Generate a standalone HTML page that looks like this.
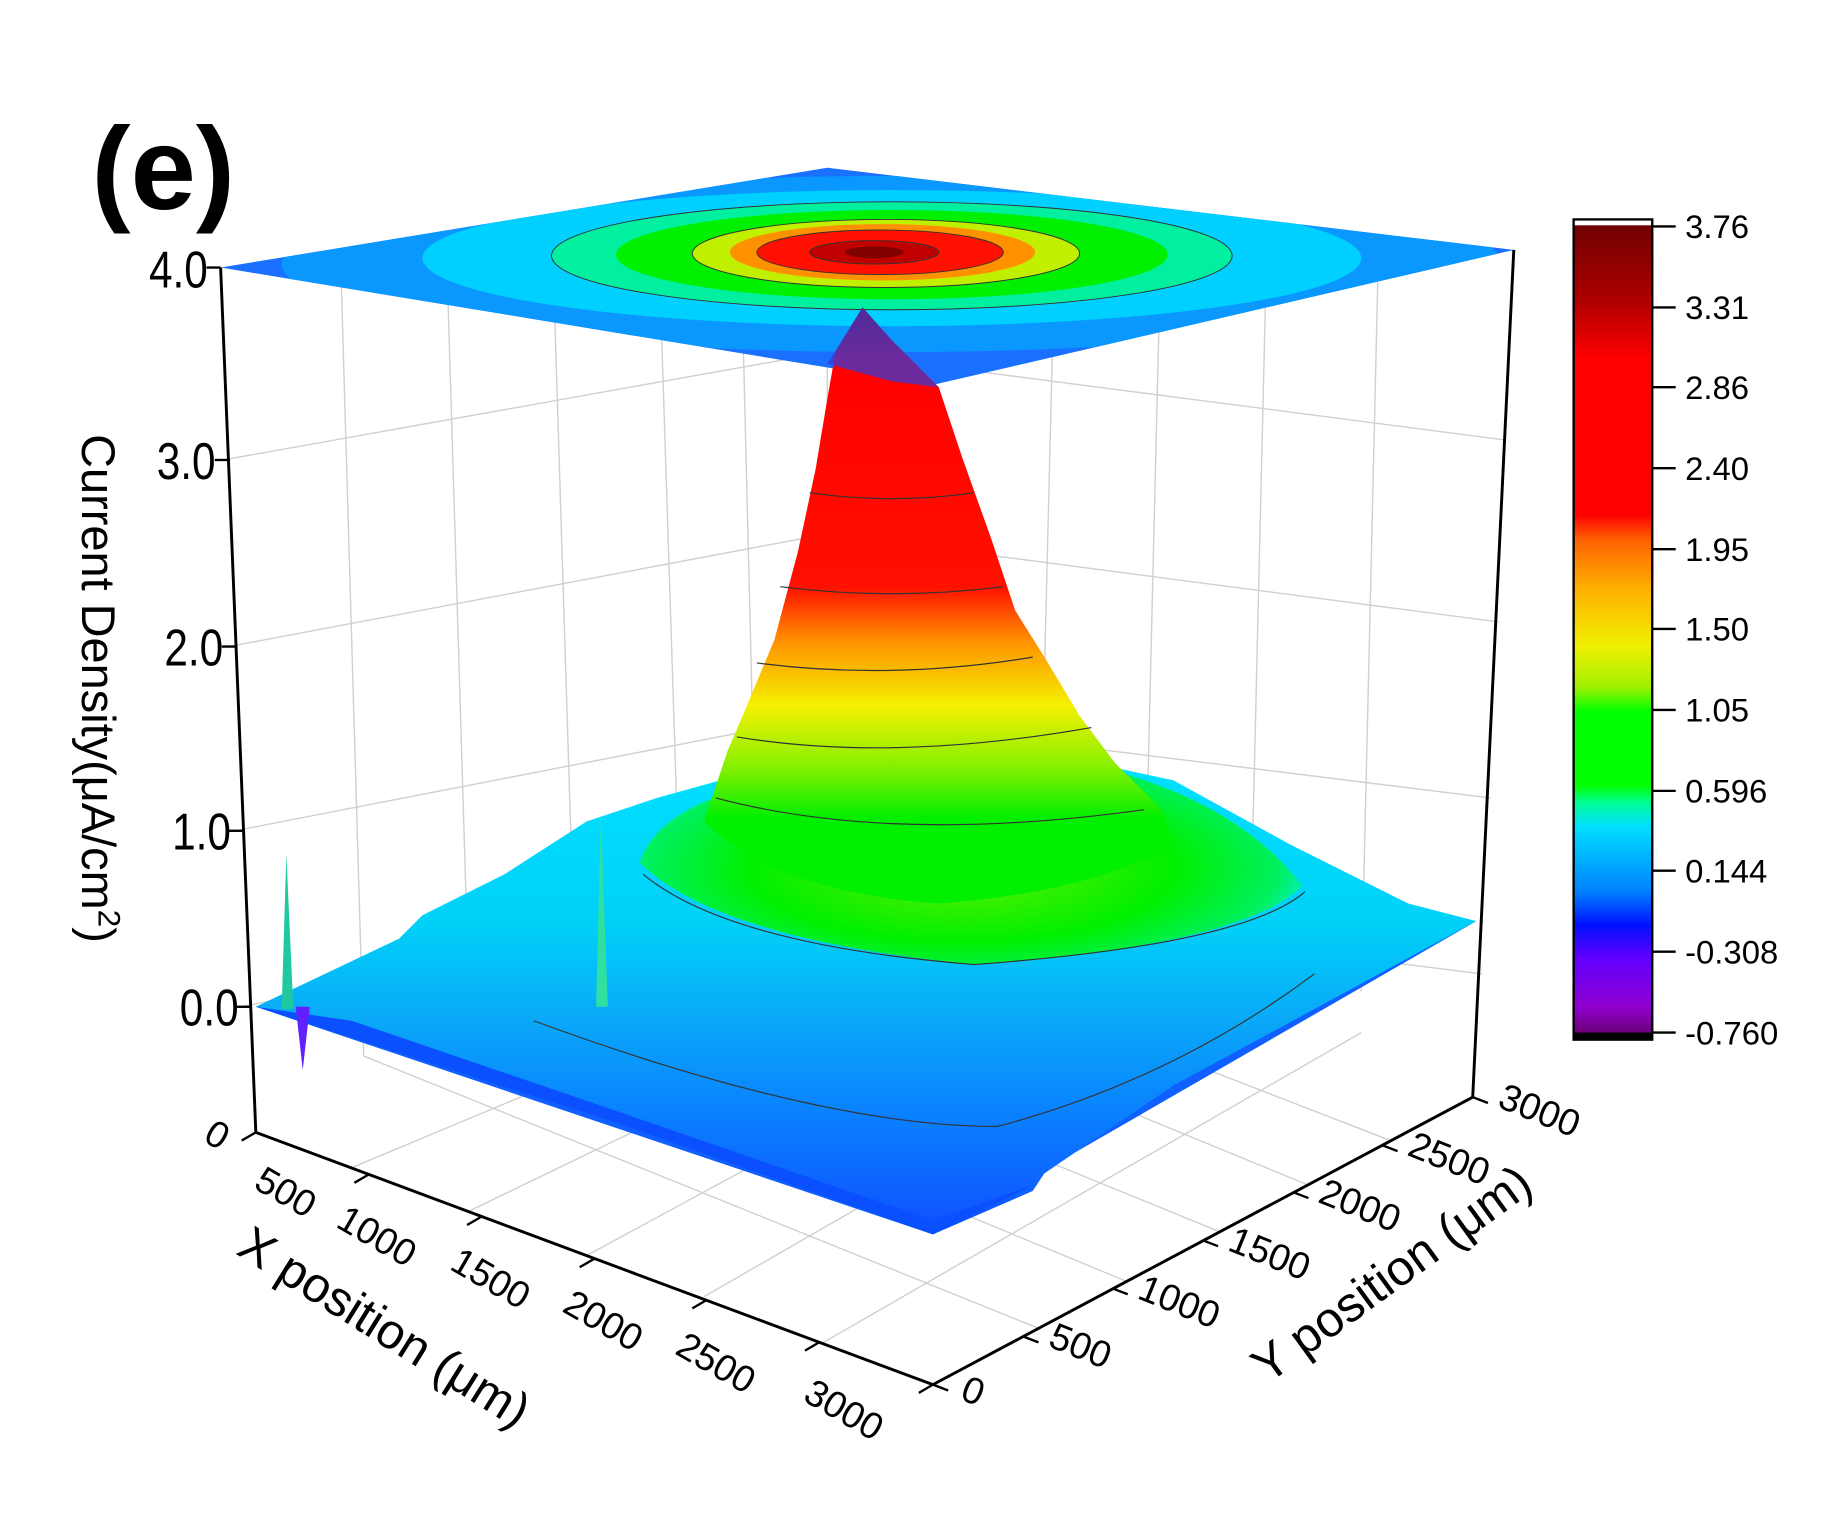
<!DOCTYPE html>
<html><head><meta charset="utf-8"><style>html,body{margin:0;padding:0;background:#fff}svg{display:block}</style></head>
<body>
<svg width="1840" height="1536" viewBox="0 0 1568 1309" preserveAspectRatio="none" xmlns="http://www.w3.org/2000/svg" font-family="Liberation Sans, sans-serif">
<defs>
<linearGradient id="cb" x1="0" y1="0" x2="0" y2="1">
<stop offset="0" stop-color="#6a0000"/><stop offset="0.1" stop-color="#b00000"/><stop offset="0.17" stop-color="#ff0000"/><stop offset="0.36" stop-color="#ff0000"/><stop offset="0.39" stop-color="#ff6000"/><stop offset="0.45" stop-color="#ffb000"/><stop offset="0.52" stop-color="#f0f000"/><stop offset="0.57" stop-color="#a0f000"/><stop offset="0.6" stop-color="#00ff00"/><stop offset="0.69" stop-color="#00ff00"/><stop offset="0.71" stop-color="#00ff90"/><stop offset="0.74" stop-color="#00e0ff"/><stop offset="0.82" stop-color="#0080ff"/><stop offset="0.86" stop-color="#0010ff"/><stop offset="0.9" stop-color="#6000ff"/><stop offset="0.96" stop-color="#9000d0"/><stop offset="1" stop-color="#600060"/>
</linearGradient>
<linearGradient id="cone" x1="0" y1="262" x2="0" y2="720" gradientUnits="userSpaceOnUse">
<stop offset="0" stop-color="#900000"/><stop offset="0.1" stop-color="#ff0000"/><stop offset="0.52" stop-color="#ff1000"/><stop offset="0.62" stop-color="#ff9000"/><stop offset="0.74" stop-color="#f5f000"/><stop offset="0.86" stop-color="#80f000"/><stop offset="0.95" stop-color="#00f000"/>
</linearGradient>
<linearGradient id="hill" x1="0" y1="650" x2="0" y2="1050" gradientUnits="userSpaceOnUse">
<stop offset="0" stop-color="#00e0ff"/><stop offset="0.35" stop-color="#00d0f8"/><stop offset="0.55" stop-color="#0aa8f8"/><stop offset="0.75" stop-color="#0a80ff"/><stop offset="1" stop-color="#1050ff"/>
</linearGradient>
<radialGradient id="green" cx="820" cy="740" r="300" gradientUnits="userSpaceOnUse" gradientTransform="translate(820 740) scale(1 0.35) translate(-820 -740)">
<stop offset="0" stop-color="#60f000"/><stop offset="0.6" stop-color="#00f000"/><stop offset="0.9" stop-color="#00f060"/><stop offset="1" stop-color="#00f0c0"/>
</radialGradient>
<clipPath id="topc"><polygon points="188,228 705,143 1290,213 795,328"/></clipPath>
</defs>
<g stroke="#d0d0d0" stroke-width="1.2" fill="none">
<line x1="290" y1="212" x2="310" y2="900"/><line x1="380" y1="197" x2="400" y2="860"/><line x1="470" y1="182" x2="490" y2="825"/><line x1="560" y1="167" x2="580" y2="790"/><line x1="630" y1="155" x2="645" y2="765"/>
<line x1="800" y1="155" x2="790" y2="760"/><line x1="900" y1="167" x2="885" y2="780"/><line x1="990" y1="178" x2="975" y2="800"/><line x1="1080" y1="188" x2="1065" y2="820"/><line x1="1175" y1="200" x2="1160" y2="845"/>
<line x1="190" y1="392" x2="705" y2="300"/><line x1="705" y1="300" x2="1283" y2="375"/>
<line x1="195" y1="551" x2="705" y2="455"/><line x1="705" y1="455" x2="1277" y2="530"/>
<line x1="200" y1="708" x2="705" y2="610"/><line x1="705" y1="610" x2="1270" y2="680"/>
<line x1="205" y1="858" x2="705" y2="760"/><line x1="705" y1="760" x2="1263" y2="830"/>
<line x1="705" y1="143" x2="705" y2="780"/>
<line x1="300" y1="995" x2="790" y2="790"/><line x1="400" y1="1032" x2="880" y2="800"/><line x1="500" y1="1070" x2="970" y2="815"/><line x1="600" y1="1105" x2="1060" y2="840"/><line x1="700" y1="1145" x2="1160" y2="880"/>
<line x1="885" y1="1132" x2="310" y2="900"/><line x1="960" y1="1092" x2="400" y2="860"/><line x1="1040" y1="1050" x2="490" y2="825"/><line x1="1115" y1="1010" x2="580" y2="790"/><line x1="1185" y1="972" x2="650" y2="765"/>
</g>
<polygon points="188,228 705,143 1290,213 795,328" fill="#1a70ff"/>
<g clip-path="url(#topc)">
<ellipse cx="760" cy="225" rx="520" ry="75" fill="#0a98ff"/>
<ellipse cx="760" cy="220" rx="400" ry="58" fill="#00d0ff"/>
<ellipse cx="760" cy="218" rx="290" ry="46" fill="#00f0a0" stroke="#333" stroke-width="0.8"/>
<ellipse cx="760" cy="217" rx="235" ry="38" fill="#00f000"/>
<ellipse cx="755" cy="216" rx="165" ry="29" fill="#c0f000" stroke="#333" stroke-width="0.8"/>
<ellipse cx="752" cy="215" rx="130" ry="24" fill="#ff9000"/>
<ellipse cx="750" cy="215" rx="105" ry="19" fill="#ff1000" stroke="#333" stroke-width="0.8"/>
<ellipse cx="745" cy="215" rx="55" ry="10" fill="#c00000" stroke="#333" stroke-width="0.8"/>
<ellipse cx="745" cy="215" rx="25" ry="5" fill="#800000"/>
</g>
<polygon points="218,858 705,690 1258,785 795,1052" fill="#1060ff"/>
<path d="M218,858 L340,800 L360,780 L430,745 L500,700 L560,680 L650,655 L800,645 L930,650 L1000,665 L1100,720 L1200,770 L1258,785 L1120,860 L1000,925 L890,1000 L880,1015 L795,1052 L520,955 L510,945 Z" fill="url(#hill)"/>
<path d="M218,858 L520,955 L795,1052 L880,1010 L795,1040 L520,945 L300,870 Z" fill="#0a50ff"/>
<path d="M545,735 Q560,690 640,670 L960,660 Q1060,690 1110,755 Q1060,805 830,822 Q610,800 545,735 Z" fill="url(#green)"/>
<path d="M548,745 Q620,805 830,822 Q1060,805 1112,760" fill="none" stroke="#333" stroke-width="1"/>
<path d="M455,870 Q700,960 850,960 Q1000,920 1120,830" fill="none" stroke="#333" stroke-width="1"/>
<path d="M600,700 L620,640 L635,605 L660,545 L680,470 L695,400 L705,340 L712,300 L735,262 L760,290 L800,330 L820,390 L845,460 L865,520 L890,560 L920,610 L950,650 L990,690 L1000,720 Q930,760 800,770 Q660,760 600,700 Z" fill="url(#cone)"/>
<path d="M705,310 L735,262 L760,290 L800,330 L760,325 Z" fill="#3a3ad0" opacity="0.75"/>
<g fill="none" stroke="#333" stroke-width="1">
<path d="M690,420 Q760,430 830,420"/><path d="M665,500 Q760,512 855,500"/><path d="M645,565 Q760,580 880,560"/><path d="M628,628 Q760,650 930,620"/><path d="M610,680 Q760,720 975,690"/>
</g>
<polygon points="240,860 244,728 250,860" fill="#20c8a0"/><polygon points="252,858 258,912 264,858" fill="#6020ff"/>
<polygon points="508,858 512,695 518,858" fill="#30e0a0"/>
<g stroke="#000" stroke-width="2.5" fill="none">
<line x1="188" y1="228" x2="218" y2="965"/>
<line x1="218" y1="965" x2="795" y2="1180"/>
<line x1="795" y1="1180" x2="1255" y2="935"/>
<line x1="1290" y1="213" x2="1255" y2="935"/>
</g>
<g stroke="#000" stroke-width="2">
<line x1="176" y1="228" x2="188" y2="228"/><line x1="183" y1="392" x2="195" y2="392"/><line x1="189" y1="551" x2="201" y2="551"/><line x1="195" y1="708" x2="207" y2="708"/><line x1="201" y1="858" x2="213" y2="858"/>
<line x1="218" y1="965" x2="206" y2="972"/><line x1="314" y1="1001" x2="302" y2="1008"/><line x1="410" y1="1037" x2="398" y2="1044"/><line x1="506" y1="1073" x2="494" y2="1080"/><line x1="602" y1="1108" x2="590" y2="1115"/><line x1="698" y1="1144" x2="686" y2="1151"/><line x1="795" y1="1180" x2="783" y2="1187"/>
<line x1="795" y1="1180" x2="808" y2="1185"/><line x1="872" y1="1139" x2="885" y2="1144"/><line x1="948" y1="1098" x2="961" y2="1103"/><line x1="1025" y1="1057" x2="1038" y2="1062"/><line x1="1102" y1="1016" x2="1115" y2="1021"/><line x1="1178" y1="976" x2="1191" y2="981"/><line x1="1255" y1="935" x2="1268" y2="940"/>
</g>
<g font-size="44" text-anchor="end" transform="scale(0.82 1)">
<text x="216" y="245">4.0</text><text x="224" y="408">3.0</text><text x="232" y="567">2.0</text><text x="240" y="724">1.0</text><text x="248" y="874">0.0</text>
</g>
<g font-size="32">
<text transform="translate(172,972) rotate(30)">0</text>
<text transform="translate(215,1012) rotate(30)">500</text>
<text transform="translate(285,1045) rotate(30)">1000</text>
<text transform="translate(382,1081) rotate(30)">1500</text>
<text transform="translate(478,1117) rotate(30)">2000</text>
<text transform="translate(574,1153) rotate(30)">2500</text>
<text transform="translate(683,1193) rotate(30)">3000</text>
<text transform="translate(817,1192) rotate(22)">0</text>
<text transform="translate(892,1147) rotate(22)">500</text>
<text transform="translate(968,1106) rotate(22)">1000</text>
<text transform="translate(1045,1065) rotate(22)">1500</text>
<text transform="translate(1122,1024) rotate(22)">2000</text>
<text transform="translate(1198,984) rotate(22)">2500</text>
<text transform="translate(1275,943) rotate(22)">3000</text>
</g>
<text font-size="42" transform="translate(200,1068) rotate(32)">X position (μm)</text>
<text font-size="42" transform="translate(1080,1180) rotate(-36)">Y position (μm)</text>
<text font-size="40" transform="translate(70,370) rotate(90)">Current Density(μA/cm<tspan font-size="27" dy="-14">2</tspan><tspan dy="14">)</tspan></text>
<text x="78" y="178" font-size="100" font-weight="bold">(e)</text>
<rect x="1341" y="187" width="67" height="699" fill="url(#cb)" stroke="#000" stroke-width="2"/>
<rect x="1342" y="188" width="65" height="4" fill="#fff"/>
<rect x="1341" y="880" width="67" height="6" fill="#000"/>
<g stroke="#000" stroke-width="2">
<line x1="1408" y1="193" x2="1428" y2="193"/><line x1="1408" y1="262" x2="1428" y2="262"/><line x1="1408" y1="330" x2="1428" y2="330"/><line x1="1408" y1="399" x2="1428" y2="399"/><line x1="1408" y1="468" x2="1428" y2="468"/><line x1="1408" y1="536" x2="1428" y2="536"/><line x1="1408" y1="605" x2="1428" y2="605"/><line x1="1408" y1="674" x2="1428" y2="674"/><line x1="1408" y1="742" x2="1428" y2="742"/><line x1="1408" y1="811" x2="1428" y2="811"/><line x1="1408" y1="880" x2="1428" y2="880"/>
</g>
<g font-size="28">
<text x="1436" y="203">3.76</text><text x="1436" y="272">3.31</text><text x="1436" y="340">2.86</text><text x="1436" y="409">2.40</text><text x="1436" y="478">1.95</text><text x="1436" y="546">1.50</text><text x="1436" y="615">1.05</text><text x="1436" y="684">0.596</text><text x="1436" y="752">0.144</text><text x="1436" y="821">-0.308</text><text x="1436" y="890">-0.760</text>
</g>
</svg>
</body></html>
